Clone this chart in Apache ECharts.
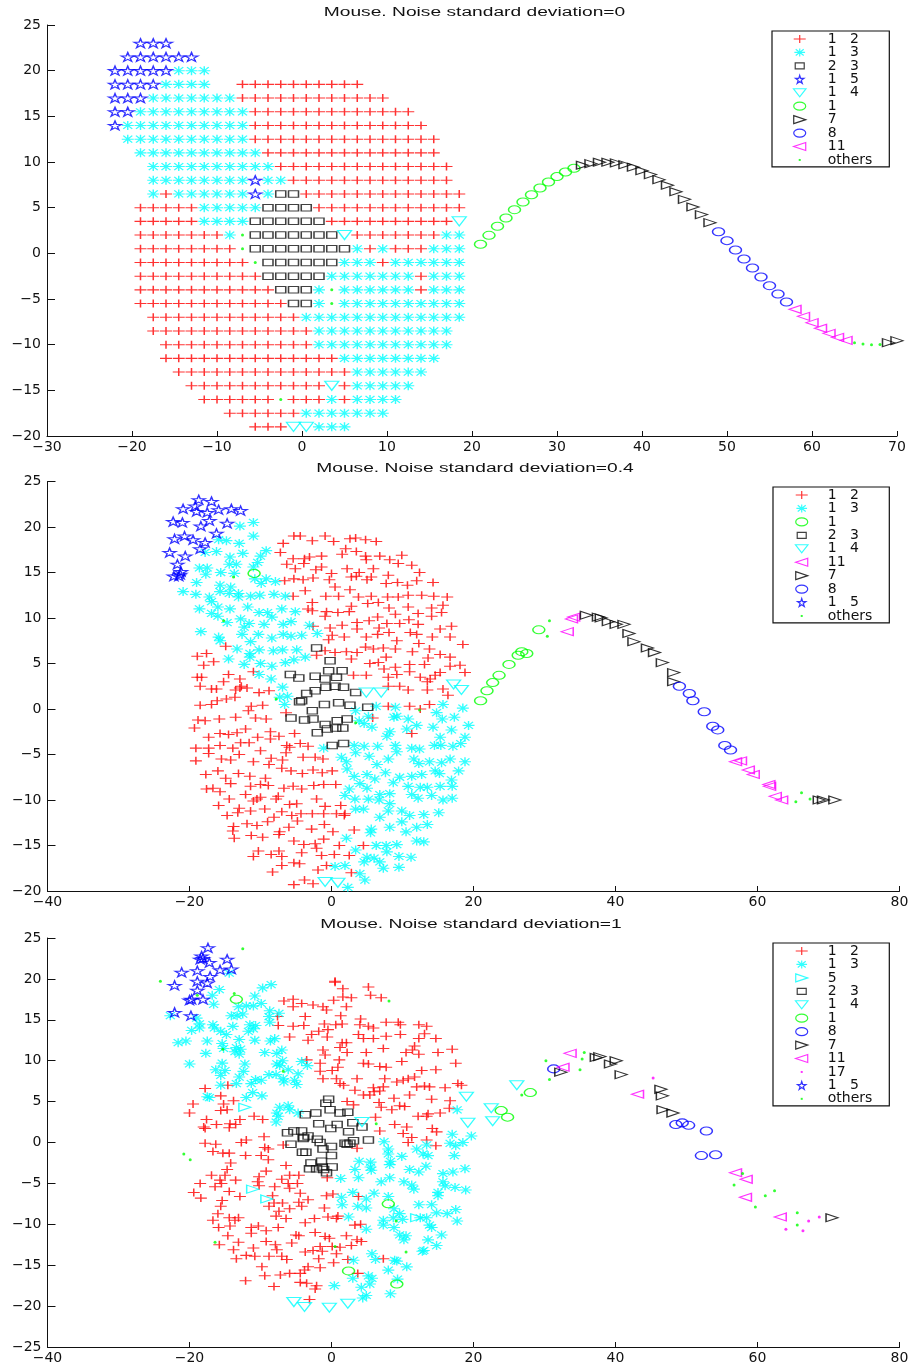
<!DOCTYPE html>
<html><head><meta charset="utf-8">
<style>html,body{margin:0;padding:0;background:#fff}#c{width:912px;height:1367px}</style>
<script src="https://cdn.jsdelivr.net/npm/echarts@6/dist/echarts.min.js"></script></head>
<body><div id="c"></div>
<script>
// ---------- Panel 1 : regular grid of cells, one class letter per cell ----------
const panel1Columns=[-22,-20.5,-19,-17.5,-16,-14.5,-13,-11.5,-10,-8.5,-7,-5.5,-4,-2.5,-1,0.5,2,3.5,5,6.5,8,9.5,11,12.5,14,15.5,17,18.5];
const panel1Rows=[23,21.5,20,18.5,17,15.5,14,12.5,11,9.5,8,6.5,5,3.5,2,0.5,-1,-2.5,-4,-5.5,-7,-8.5,-10,-11.5,-13,-14.5,-16,-17.5,-19];
const panel1Cells=[".2b3",".1b6","b5c3","b4c4.2r10","b3c7r12","b2c9r13","b1c10r14",".1c10r15",".2c10r14",".3c10r14",".3c8b1c2r13",".3c1r1c6b1c1q2r13",".2r5c5q4r12",".2r5c4q6r10v1",".2r7c1g1q7v1r7c2",".2r8g1q8c1r1c1r3c3",".2r9g1q6c3r1c6",".2r10q5c7r1c3",".2r11q3c1g1c6r1c3",".2r12q2c1g1c10",".3r12c13",".3r13c11",".4r12c11",".4r14c8",".5r14c6",".6r11v1r1c5",".7r6g1r3c1r1c4",".9r6c7",".11r3v2c3"];
const p1Green=[[21,0.99],[22,1.97],[23,2.96],[24,3.87],[25,4.78],[26,5.62],[27,6.42],[28,7.16],[29,7.81],[30,8.4],[31,8.91],[32,9.31]];
const p1Black=[[33,9.64],[34,9.82],[35,9.97],[36,9.97],[37,9.9],[38,9.71],[39,9.42],[40,9.05],[41,8.62],[42,8.07],[43,7.45],[44,6.75],[45,5.91],[46,5.07],[47,4.24],[48,3.36],[69,-9.78],[70,-9.56]];
const p1Blue=[[49,2.37],[50,1.39],[51,0.36],[52,-0.62],[53,-1.61],[54,-2.59],[55,-3.54],[56,-4.45],[57,-5.33]];
const p1Magenta=[[58,-6.13],[59,-6.9],[60,-7.59],[61,-8.21],[62,-8.76],[63,-9.2],[64,-9.53]];
const p1Dots=[[65,-9.78],[66,-9.93],[67,-10],[68,-9.97]];

// ---------- Panel 2 ----------
const p2Red=[[-5.3,19],[-4.4,19],[-2.7,18.5],[-0.9,19],[0.3,18.4],[2.6,18.7],[3.4,18.8],[4.8,18.6],[6.3,18.4],[-6.8,18.2],[-7.2,17.2],[2,17.6],[3.5,17.3],[1.5,17],[4.8,16.8],[4.9,16.4],[6.8,16.8],[8.2,16.4],[9.9,16.9],[-1.4,16.8],[-3.1,16.7],[-3.8,16.5],[-5.4,16.5],[-6.3,15.9],[-3.9,16],[-5.1,15.4],[-1.4,15.6],[-2.2,15.3],[2.2,15.4],[5.9,15.4],[3.9,15],[9.4,16],[11.3,15.8],[12.4,15],[0,14.9],[8,14.7],[3.5,14.6],[2.8,14.5],[5.6,14.5],[5,14.2],[-5.3,14.3],[-4,14.2],[-2.6,14.4],[-0.3,14.2],[-6.6,14.1],[7.7,13.8],[9.3,13.9],[10.7,13.6],[12,14.1],[14.3,13.9],[0.5,13.4],[2.6,13.1],[-3.7,13],[-5.4,12.4],[-0.8,12.4],[1,12.4],[3.8,12.3],[5.6,12.4],[7.9,12.3],[9.4,12.3],[10.8,12.5],[12.7,12.5],[14.4,12.4],[16.3,12.3],[-2.7,11.7],[5.1,11.6],[6.6,11.7],[2.8,11.3],[8.1,11.1],[10.8,11.2],[14.1,11.1],[15.7,11.4],[-3.3,11],[-2.7,10.8],[-0.7,10.7],[0.9,10.6],[2.5,10.7],[9,10.4],[12.2,10.5],[14.1,10.2],[15.5,10.6],[-0.9,10.2],[6.5,10.1],[5.3,9.7],[10.9,9.8],[3.6,9.5],[7.8,9.4],[9.6,9.4],[12.2,9.3],[1.5,9.2],[-0.2,8.9],[3.6,8.8],[6.7,8.9],[16.9,9.1],[15.3,8.8],[-2.6,9.1],[0.1,8.1],[1.8,7.9],[8.1,8.4],[6.5,8.2],[4.9,7.9],[11.1,8.4],[12,8.2],[14.2,7.9],[16.7,7.9],[-0.4,7.6],[9.2,7.5],[18.5,7.1],[12.3,7.2],[4.8,6.8],[5.9,6.6],[7.3,6.7],[9,6.6],[13.8,6.6],[11.4,6.3],[-14.9,6.9],[-17.6,6.1],[-18.9,5.8],[-0.9,6.4],[0.5,6.2],[2.1,6.3],[3.6,6.2],[-2.1,5.9],[15.3,6],[16.7,5.7],[7.7,5.7],[13.6,5.6],[2.8,5.5],[5.4,5],[6.6,5.1],[-18,4.8],[-16.6,5.2],[13.1,4.9],[11,4.9],[9,4.6],[16.7,4.7],[18.1,4.8],[7.4,4.4],[15.3,4],[11,4.1],[18.8,4],[-14.5,3.8],[-18.9,3.5],[-18.3,3.5],[-11,4.1],[-12.9,3.3],[3.1,3.7],[4.9,3.7],[9.2,3.8],[8,3.5],[12.5,3.5],[14.6,3.7],[13.9,3.3],[-15.2,3],[13.5,3],[-18.5,2.5],[8,2.5],[9.6,2.5],[-12.7,2.5],[-12.9,2.3],[-16.9,2.2],[15.7,2.2],[13.5,2.1],
[-16.2,2.2],[-13.5,2.1],[-11.9,2.3],[-10.2,1.8],[-8.8,2],[10.8,2.1],[16.4,1.5],[-18.5,0.4],[-16.9,0.5],[-16.1,0.9],[-14.8,1.1],[-13.6,1.3],[-11.3,0.3],[-11.7,-0.2],[-9.7,0.4],[-6.4,-0.4],[8,0.3],[11,0.3],[12.5,0],[13.8,0.5],[-18.8,-1.2],[-17.8,-1.3],[-15.8,-1.1],[-13.5,-0.9],[-10.7,-1],[-9.2,-1.1],[-19.3,-2.1],[-12.1,-2.2],[-17.3,-3.1],[-15.7,-2.7],[-14.5,-2.8],[-13.3,-2.6],[-8.6,-2.5],[-10.4,-3.1],[-8.6,-3.3],[-7.4,-3],[-5.2,-2.7],[5.8,-1],[11.3,-2.7],[-12.8,-3.7],[-11.6,-3.7],[-15.7,-4],[-19.1,-4.3],[-17.3,-4.3],[-13.9,-4.3],[-17.3,-4.9],[-13,-5],[-10,-4.6],[-6.3,-4],[-5.9,-4.2],[-4.4,-3.8],[-3.3,-4.1],[-6.4,-4.8],[-19.1,-5.7],[-15.5,-5.5],[-14.2,-5.6],[-11,-5.8],[-8.5,-5.4],[-8.8,-6.1],[-6.9,-5.6],[-4,-5.3],[-2.3,-5.3],[-1.2,-5.5],[-7,-6.5],[-5.7,-6.8],[-4.1,-7.1],[-2.6,-6.7],[-1.3,-7],[0.1,-6.8],[-16,-6.8],[-17.7,-7.2],[-13.1,-7.1],[-11.5,-7.4],[-9.3,-7.6],[-14.9,-7.6],[-14.2,-8.2],[-11.4,-8.5],[-10,-8.3],[-8.9,-8.4],[-6.7,-8.7],[-5.4,-8.5],[-4.2,-8.8],[-2.5,-8.4],[-1.1,-8.3],[0.6,-8.3],[-17.6,-8.8],[-16.7,-8.7],[-15.7,-9.1],[-12.1,-9.4],[-14.4,-9.9],[-10.5,-9.9],[-11,-10.1],[-10,-9.7],[-7.8,-9.9],[-7.5,-9.6],[-2.1,-9.9],[-15.9,-10.6],[-5.9,-10.5],[-4.9,-10.4],[-0.9,-10.7],[1.3,-10.6],[-13,-10.9],[-9.4,-11],[-11.4,-11.2],[-13.2,-11.4],[-7,-11.3],[-14.7,-11.7],[-8.1,-11.9],[-5.6,-11.7],[-4.3,-11.5],[-2.7,-11.5],[-1.1,-11.5],[0.7,-11.5],[1.9,-11.5],[1.8,-11.7],[-4.8,-12.3],[-9,-12.4],[-11.9,-12.6],[-10.5,-12.8],[-13.8,-12.9],[-13.9,-13.4],[-6,-13],[-2.8,-13.2],[-1,-12.7],[3.2,-13.3],[-7.3,-13.5],[-7.4,-13.8],[0.2,-13.5],[-13.7,-14.2],[-11.3,-13.9],[-9.7,-14.1],[-1.1,-14.3],[-5.3,-14.5],[-3.9,-14.9],[-2.3,-14.8],[-2.1,-15.3],[1.1,-15],[4.5,-15],[-10.3,-15.6],[-7.4,-15.6],[-11,-16.2],[-8.5,-16],[-7,-16.2],[-4.2,-15.8],[-1.4,-16.1],[0.4,-16],[2.5,-16.1],[-7,-17.2],[-5.3,-16.9],[-4.5,-17],[-0.7,-17.2],[-1.9,-17.7],[-8.3,-17.9],[2.8,-18],[-5.3,-19.3],[-3.8,-18.8],[-2.6,-19.2]];
const p2Cyan=[[-11,20.5],[-12.9,20.1],[-11,19],[-15.9,18.6],[-14.8,18.5],[-13,18.2],[-9.2,17.4],[-16.2,17.3],[-17.8,17.2],[-12.5,17.1],[-10,16.8],[-14.3,16.7],[-10.4,16.1],[-14.4,15.9],[-13.4,15.9],[-18.6,15.5],[-17.5,15.5],[-11,15.6],[-15.6,15],[-17.7,14.8],[-13.7,14.9],[-10.8,14.3],[-9.2,14.3],[-7.9,14],[-9.9,13.8],[-19,13.9],[-15.7,13.6],[-14.2,13.4],[-20.9,12.9],[-15.7,12.9],[-14.4,12.7],[-13.1,12.7],[-19.1,12.6],[-17.2,12.3],[-13.1,12.3],[-11.4,12.4],[-10.1,12.5],[-8.1,12.6],[-6.5,12.4],[-16.9,11.8],[-18.6,11],[-16,11.2],[-14.3,11],[-11.8,11.2],[-7,11],[-5.1,10.7],[-16.9,10.5],[-16,10.2],[-10.2,10.6],[-9,10.6],[-8.4,10.1],[-12.8,9.9],[-14.7,9.5],[-11.6,9.4],[-12.3,9],[-9.5,9.3],[-6.8,9.3],[-5.7,9.6],[-3.1,9.2],[-18.4,8.5],[-12.6,8.2],[-10.3,8.2],[-8.4,7.8],[-6.8,8.2],[-5.7,8],[-4.2,8.1],[-2,8.3],[-15.9,7.9],[-15.7,7.5],[-11.4,7.4],[-13.3,6.6],[-11.5,6.1],[-10.2,6.5],[-8.2,6.4],[-6.9,6.5],[-4.9,6.5],[-11.5,5.7],[-3.7,5.7],[-14.5,5.5],[-12.3,4.9],[-10,5],[-8.4,4.7],[-6.5,5.1],[-5.3,5.4],[-10.2,3.8],[-8.5,3.3],[-6.9,2.4],
[-7.3,1.3],[-6.2,1.4],[-6.6,0.5],[3.4,-0.2],[6.3,0.3],[9,0.2],[15.7,0.5],[18.5,0.1],[14.8,-0.4],[5.2,-0.8],[3.9,-1.3],[4.6,-1.6],[5.7,-2],[8.8,-0.9],[9.2,-0.8],[10.8,-1.1],[15.6,-1.1],[17.3,-0.9],[12,-1.8],[19.3,-1.8],[8.2,-2.5],[7.8,-3],[10.6,-2.2],[14.3,-2],[16.9,-2.3],[15.3,-3.1],[18.8,-3.1],[-1.1,-4.3],[3.2,-4],[4.6,-4.1],[6.5,-4.1],[3.4,-4.8],[9,-4],[9.2,-4.7],[11.3,-4.3],[12.4,-4.4],[14.5,-4],[15.4,-4],[17.1,-4.1],[18.2,-3.8],[1.4,-5.3],[2.1,-5.8],[5.3,-5.2],[8,-5.5],[11.6,-5.5],[12.3,-6],[13.8,-5.8],[15.5,-5.9],[16.7,-5.5],[18.8,-5.8],[6.4,-6.1],[2.2,-6.6],[7.6,-7],[14.6,-6.8],[15.2,-7.1],[17.9,-6.8],[3.2,-7.4],[5,-7.2],[6.1,-7.7],[9.6,-7.5],[11.3,-7.4],[12.7,-7.2],[16.9,-7.8],[4,-8.2],[8.7,-8.1],[5,-8.7],[10.8,-8.5],[12.5,-8.6],[13.5,-8.6],[15.3,-8.5],[17,-8.5],[2.5,-8.8],[1.9,-9.5],[11.3,-9.4],[6.8,-9.4],[8.2,-9.3],[14.1,-9.5],[12.2,-9.8],[3.3,-9.9],[5.2,-9.9],[6.7,-10],[15.7,-10],[17,-9.8],[8.2,-10.4],[3.4,-11],[4.5,-11],[8,-11.2],[9.9,-11.2],[15.1,-11.4],[11,-11.7],[13,-11.6],[6.8,-11.9],[9.9,-12.4],[13.5,-12.7],[8.2,-13],[12,-13],[5.6,-13.2],[5.5,-13.6],[10.5,-13.5],[2.1,-14.2],[12,-14.5],[13,-14.6],[6.3,-15],[7.7,-15],[9.2,-14.9],[3.4,-15.5],[7.8,-15.7],[9.5,-16.2],[11.2,-16.3],[5,-16.3],[6,-16.4],[4.6,-16.8],[6.8,-16.8],[7.3,-17.5],[9.5,-17.4],[0.5,-17.3],[1.9,-17.2],[4,-18.1],[4.7,-18.8],[2.3,-19.6]];
const p2Square=[[-2.1,6.7],[-0.2,5.3],[-0.4,4.2],[1.5,4.2],[-5.8,3.8],[-4.6,3.4],[-2.3,3.6],[-0.9,3.3],[0.7,3.5],[0.5,2.5],[1.7,2.4],[-0.8,2.4],[-2.3,2],[-3.5,1.7],[3.4,1.8],[-4.5,0.8],[-4.2,0.9],[-1,0.5],[1,0.7],[2.6,0.4],[5.1,0.2],[-2.7,-0.2],[-5.7,-1],[-3.8,-1.2],[-2.6,-1.1],[0.8,-1.3],[2.2,-1.1],[-0.9,-1.7],[-0.6,-2.2],[0.6,-2.1],[1.6,-2.1],[-2,-2.6],[0.1,-4],[1.7,-3.8]];
const p2Star=[[-18.7,23],[-16.9,22.8],[-19.2,22.3],[-20.9,22],[-19,21.7],[-17.5,21.6],[-15.9,21.9],[-14.1,22],[-12.8,21.8],[-22.3,20.6],[-21,20.5],[-17.2,20.7],[-18.4,20.1],[-14.7,20.4],[-16.2,19.3],[-22.1,18.7],[-20.7,19],[-19.5,18.6],[-17.8,18.3],[-18.5,17.6],[-22.8,17.2],[-20.6,16.8],[-21.7,15.9],[-21.2,15.1],[-22.2,14.6],[-21.5,14.6],[-21.3,14.8]];
const p2TriDown=[[17.2,2.7],[18.3,2.1],[4.9,1.8],[7,1.8],[-0.9,-19],[0.9,-19.1]];
const p2Dots=[[-13.8,14.5],[-15.2,9.7],[-7.8,1.1],[12.4,-0.1],[3.4,-1.5],[30.7,9.7],[30.4,8],[66.2,-9.2],[65.4,-10.2],[67.4,-9.9]];
const p2Green=[[-10.9,14.9],[21,0.9],[21.9,2],[22.7,2.9],[23.6,3.7],[25,4.9],[26.3,5.9],[26.8,6.3],[27.5,6.1],[29.2,8.7]];
const p2Magenta=[[33.8,9.9],[34.1,10.1],[33.2,8.5],[56.9,-5.8],[57.6,-5.7],[58.7,-6.7],[59.4,-7.2],[61.6,-8.3],[61.7,-8.5],[62.5,-9.6],[63.4,-10]];
const p2Black=[[35.9,10.3],[37.6,10.1],[38,10],[39,9.6],[40.1,9.3],[41.2,9.3],[41.9,8.3],[42.6,7.4],[44.5,6.7],[45.5,6.2],[46.6,5.1],[48.2,4],[48.2,3],[68.7,-10],[69.3,-10],[70.9,-10]];
const p2Blue=[[49,2.5],[50.4,1.7],[50.9,0.9],[52.5,-0.3],[53.7,-1.9],[54.4,-2.3],[55.4,-4],[56.2,-4.5]];

// ---------- Panel 3 ----------
const p3Red=[[0.5,19.7],[0.5,19.6],[1.6,18.8],[5.2,19],[5.5,18],[7,17.7],[1.6,17.8],[2.8,17.7],[0.3,17.4],[-6.7,17.3],[-5.4,17.5],[-4.2,17],[-5.4,16.6],[-2.6,16.8],[-1.2,16.6],[-0.7,16.2],[2.1,16.6],[1.3,15.5],[-7.6,15.4],[-3.7,15.4],[4.1,15.1],[7.7,14.7],[9.4,14.7],[12.3,14.4],[13.4,14.2],[-7.5,14.3],[-5.4,14.2],[-3.9,14.3],[-1,14.5],[0.6,14.4],[1.5,14.5],[4,14.4],[5.2,14.2],[5.9,14],[9.7,14.4],[-0.5,13.8],[-1.8,13.6],[-2.8,13.2],[3.8,13.2],[9.7,13.2],[13.1,13.3],[-5.9,12.9],[-0.6,12.9],[4.5,12.7],[5.9,12.7],[7.7,13],[12.3,12.7],[14.7,12.7],[-3.3,12.5],[1.5,12.2],[2.1,12.2],[1.2,11.6],[7.3,11.5],[11.7,11.8],[11.4,11.3],[-1.2,11.3],[4.9,11],[17,11.4],[10.5,11],[15,11],[-0.9,10.7],[2.2,11],[12.3,10.8],[1.1,10.1],[-3.5,10.1],[-1.6,9.7],[9.9,9.9],[17.5,9.7],[4.5,9.7],[5.2,9.6],[0.9,9.2],[6.8,9.3],[7.7,9.2],[-1.6,8.7],[0.1,8.8],[12.7,8.8],[14.7,8.9],[-1.2,7.8],[0.7,7.8],[3.6,7.8],[7.5,7.8],[1.2,7.2],[1.7,7],[11.7,8],[10.8,7.8],[10.1,7.6],[9.2,7.4],[13.1,6.9],[12,6.8],[13.8,6.8],[16,6.7],[17.8,7.2],[18.3,7],[-17.8,6.6],[-14.6,7],[3.3,6.4],[5.9,6.7],[7.3,6.8],[6,6.2],[6.8,6.3],[4.5,5.8],[5.4,5.8],[-15.6,5.7],[8.8,5.4],[11,5.8],[14.1,5.3],[16.7,5.1],[-13.8,5.1],[-19.5,4.7],[-15.2,4.7],[2.2,5],[3.1,4.6],[6.7,4.9],[7,4.3],[8.5,4],[9.6,4.5],[10.3,4.4],[16.6,4.2],[-15.6,3.9],[-14.7,4],[-20,3.6],[-12.9,2.8],[-10.9,3.2],[-9.7,2.8],[6.2,3.1],[12.2,3.2],[13.4,3.2],[13.6,3.5],[15.3,3.6],[-17.6,2.8],[-18,1.9],[-17.8,1.7],[-16.2,2.2],[-14.3,2.3],[-13.5,2.2],[-14.4,1.8],[8.9,2.2],[10.6,1.9],[14.2,1.7],[14.8,1.3],[10.1,1.1],[11.3,0.6],[-9.5,0.7],[-12,0.3],[13.4,0.3],[-12.7,0],[-17.8,-0.1],[-16.3,-0.2],
[6.8,1.4],[10.8,0],[14.7,-0.4],[-6.8,-0.3],[-9.4,-0.6],[-8.9,-0.8],[3.6,-0.7],[-16.7,-1.1],[-15.3,-1.3],[-14.4,-1.3],[-12.1,-1.6],[-9.9,-1.6],[-8.9,-2.1],[-14.2,-2.5],[-6.4,-2.8],[-14.7,-3.3],[-9.2,-3.5],[-16.9,-4],[-15,-4],[-10.2,-4.2],[-5.9,-4],[-4.6,-4],[-7,-4.5],[-13.5,-4.6],[-15.7,-4.6],[-0.6,-4.3],[-10.4,-4.8],[-18.5,-5],[-6.1,-5],[-4.8,-5],[-15.5,-5],[-16.4,-5.4],[-10.2,-5.3],[-8,-5.4],[-5.9,-5.6],[-14.4,-6],[-19.4,-6.1],[-4.4,-6.2],[-0.7,-6.5],[0.2,-6.3],[3.8,-6.6],[-18.4,-6.8],[-12.9,-6.6],[-8.3,-6.5],[-3.3,-7],[-15.4,-7.1],[-4.6,-7.3],[-8.1,-7.4],[-6.9,-7.4],[-8.8,-7.8],[-4.2,-7.8],[-15.6,-7.8],[-5.9,-8.1],[-1,-8],[-7.4,-8.4],[-16,-8.7],[-7.8,-9],[-14.4,-9.2],[-13.1,-9.2],[-0.5,-9.1],[0.9,-9],[-6.4,-9.3],[-2.4,-9.3],[-16.7,-9.5],[-13.6,-9.5],[0.7,-9.3],[-3.7,-9.8],[-14.3,-10.2],[-15.9,-10.4],[-11.3,-10.4],[-10.3,-10.2],[-7.5,-10.4],[3.3,-10.1],[4.1,-10],[-9.2,-10.8],[-11.3,-11.1],[-2.3,-11],[-5,-11.3],[-4.6,-11.4],[-14.6,-11.4],[-0.9,-11.5],[-0.3,-11.7],[2.1,-11.4],[3.6,-11.9],[-9.2,-12.1],[4.2,-12.1],[-5.6,-12.3],[-13.1,-12.2],[-15.8,-12.5],[-7.9,-12.5],[-1.6,-12.7],[0.1,-12.7],[1.2,-12.8],[2.8,-12.6],[-11,-12.9],[-7.7,-13.1],[-13.8,-13.1],[-2.6,-13.2],[-1.3,-13.3],[-3.7,-13.4],[-12,-13.8],[-10.8,-13.9],[-8.8,-13.9],[-7,-13.9],[-6.3,-14.3],[0.7,-13.6],[-13.4,-14.2],[-1.8,-14.2],[2.3,-14.3],[7.3,-14.2],[0.3,-14.7],[-3.3,-15.2],[-1.6,-15.3],[-9.8,-15.2],[-3.8,-15.6],[-5.9,-16],[-4.4,-16],[3.7,-16],[-9.4,-16.3],[-7.2,-16.2],[-12.1,-16.9],[-4.4,-17.1],[-3.5,-17.2],[-2.1,-17.5],[-2.3,-17.9],[-8.1,-17.6],[-3.1,-19.2]];
const p3Cyan=[[-14.4,20.7],[-8.5,19.3],[-9.7,18.9],[-15.8,18.7],[-16.8,18],[-10.8,17.9],[-16.6,16.9],[-13.1,16.6],[-12,16.7],[-11,16.7],[-9.9,17],[-22.7,15.5],[-8.7,16.1],[-7.4,15.8],[-14.1,15.5],[-13.3,15.5],[-12.5,15.7],[-8.8,15.4],[-8.7,14.7],[-19,15.2],[-18.6,14.5],[-18.6,14],[-19.7,13.7],[-16.7,14.4],[-16.5,14],[-13.9,14.2],[-11.5,14.4],[-10.7,14.3],[-11.7,13.6],[-11,13.9],[-15.6,13.6],[-14.8,13.2],[-13,12.6],[-10.8,12.5],[-8,12.7],[-8.6,12.4],[-21.6,12.2],[-20.5,12.4],[-17.5,12.4],[-15.4,12.1],[-15.2,11.5],[-17.7,10.9],[-13.4,11.6],[-12.8,11.4],[-13.6,11.1],[-13,10.8],[-9.4,11],[-7,11.3],[-7.7,10.9],[-20,9.6],[-15.4,9.7],[-12.2,9.6],[-7.7,9.6],[-6.9,10],[-7.3,9.4],[-4.2,9.9],[-3.4,9.4],[-16.3,8.9],[-15,8.8],[-12.4,8.7],[-6.1,8.9],[-4.7,8.4],[-15.6,8.2],[-8.8,8.3],[-7.8,8.3],[-13,8],[-10.7,7.7],[-9.9,7.6],[-11.3,7.2],[-6.8,7.8],[-6.7,7.4],[-5.2,7.6],[-4.9,7.1],[-15.6,7],[-13.4,7.2],[-11.1,6.1],[-17.5,5.6],[-17.2,5.5],[-12,5.5],[-9.8,5.7],[-7.3,4.3],[-6.1,4.5],[-5.9,4],[-7.7,3.6],[-7.5,3.2],[-4.7,3.6],[-7.8,2.5],[17.7,4],[17,1],[19.7,0.8],[18.5,0],[16.7,-0.1],[7.4,0.1],[13.4,-0.3],
[17.5,-0.4],[12,-0.8],[8,-0.8],[8,-1.4],[9.9,-1.7],[12.9,-1.4],[13.6,-1.6],[17.3,-1.6],[8.3,-2.3],[8.2,-2.7],[3.9,-2.3],[5.5,-2.4],[5.5,-3],[3.3,-3.3],[5.6,-3.4],[11,-3.3],[13.3,-2.9],[18.8,-3.2],[12.3,-3.6],[17.1,-3.6],[15.7,-3.8],[1.3,-4.4],[3.8,-4.3],[7,-4.8],[8.2,-4.3],[10.2,-4.8],[15.7,-4.8],[11.3,-5.2],[17.4,-5.5],[11.6,-5.7],[16,-5.3],[18.9,-5.8],[15,-6.1],[3,-6.1],[6,-6.2],[8,-6.6],[15,-6.5],[1.4,-6.7],[4.9,-6.9],[1.5,-7.6],[3.7,-7.8],[4.9,-8],[12.3,-7.6],[14.1,-7.6],[8.8,-8.1],[9.6,-8.7],[17.5,-8.2],[14.8,-8.6],[16.3,-8.7],[2.4,-9.1],[8.7,-9.2],[7.3,-9.5],[10,-9.4],[12.5,-9.2],[13.4,-9.2],[17.7,-9.6],[7.3,-10.1],[13.8,-10.1],[14.1,-10.4],[8.8,-10.4],[4.9,-10.6],[15.5,-11.3],[9.6,-11.3],[10.5,-11.4],[10.2,-11.9],[13.6,-11.9],[14.8,-12.6],[13,-13.2],[12.8,-13.3],[5.7,-13.6],[6.2,-14.3],[3.1,-14.4],[8.9,-14.4],[9.2,-14.5],[10.6,-15.2],[8,-15.6],[3,-16.6],[5.2,-16.3],[5.7,-16.6],[9.3,-16.7],[5.4,-17.3],[4.2,-17.7],[0.4,-17.5],[4.9,-18.7],[4.4,-19],[8.3,-18.5]];
const p3Square=[[-0.4,5.3],[-0.8,4.8],[-0.2,4],[1.2,3.6],[2.3,3.7],[-3.7,3.4],[-2.2,3.6],[-1.8,2.3],[0.8,2.2],[-0.1,1.7],[3,2.4],[4.3,1.9],[2.4,1.3],[-6.2,1.2],[-5.3,1.4],[-4.2,1.4],[-3.3,0.8],[-3.9,0.6],[-2,0.4],[3.1,0.2],[5.2,0.3],[-5.7,-0.2],[-1.6,0],[0,-0.5],[1.9,-0.1],[2.6,-0.1],[-4,0.5],[2.2,-0.2],[-1.2,-0.8],[-4.1,-1.2],[-3.6,-1.2],[0,-1.6],[-2.9,-2.5],[-1.4,-2.3],[0.1,-3],[-3.1,-3.2],[-2.1,-3.2],[-1.3,-3],[-1.1,-3.3],[-0.7,-3.7]];
const p3Star=[[-17.4,23.8],[-18.3,22.8],[-18.1,22.5],[-18.5,22.4],[-17.2,22],[-14.7,22.4],[-21.1,20.8],[-18.9,21],[-15.7,21.1],[-14.1,21.2],[-17.1,20.3],[-18.9,19.7],[-17.5,19.5],[-22.1,19.2],[-18.9,18.6],[-20,17.4],[-19.7,17.5],[-18.1,17.5],[-22.1,15.9],[-19.8,15.5]];
const p3TriDown=[[19,5.6],[4.3,2.5],[19.2,2.4],[22.5,4.2],[22.7,2.6],[26.1,7],[-5.3,-19.5],[-3.8,-20.1],[-0.3,-20.2],[2.3,-19.7]];
const p3TriRightCyan=[[-12.2,4.3],[-11.1,-5.7],[-9.1,-6.9],[12,-9.2]];
const p3Green=[[-13.4,17.5],[8,-7.5],[2.4,-15.7],[9.2,-17.3],[23.9,3.9],[24.8,3.1],[28,6.1]];
const p3Dots=[[-12.5,23.7],[-24.1,19.7],[-13.7,18.2],[-18.9,18],[8.1,17.3],[-15.3,11.4],[-6.8,8.7],[6.3,2.3],[-20.8,-1.4],[-19.9,-2.1],[-16.4,-12.2],[9.1,-9.6],[10.5,-13.4],[0.5,-12.7],[26.8,5.8],[30.2,10],[30.7,7.7],[35.3,10.2],[35.6,11],[35,8.9],[57.9,-3.8],[56.7,-5.2],[61.1,-6.5],[62.4,-5.9],[59.7,-7.9],[65.6,-8.6],[65.6,-10.1]];
const p3Dots17=[[45.3,7.9],[64,-10.6],[66.4,-10.8],[67.2,-9.6],[68.7,-9.1]];
const p3Blue=[[31.3,9],[48.5,2.2],[49.4,2.4],[50.3,2.1],[52.8,1.4],[52.1,-1.6],[54.1,-1.5]];
const p3Black=[[32.3,8.6],[37.3,10.4],[37.8,10.5],[39.3,9.6],[40.1,10],[40.8,8.3],[46.4,6.5],[46.6,5.7],[46.7,4],[48.1,3.6],[70.5,-9.2]];
const p3Magenta=[[33.6,10.9],[32.6,9.2],[43.1,5.9],[56.9,-3.7],[58.4,-4.5],[58.3,-6.7],[63.2,-9.1]];

// ---------- Titles, legends, ticks ----------
const panelTitles=["Mouse. Noise standard deviation=0","Mouse. Noise standard deviation=0.4","Mouse. Noise standard deviation=1"];
const legendOrder1=["1   2","1   3","2   3","1   5","1   4","1","7","8","11","others"];
const legendOrder2=["1   2","1   3","1","2   3","1   4","11","7","8","1   5","others"];
const legendOrder3=["1   2","1   3","5","2   3","1   4","1","8","7","11","17","1   5","others"];

// ---------- Decode panel 1 table ----------
const p1 = {r:[],c:[],q:[],b:[],v:[],g:[]};
panel1Cells.forEach((cells,i)=>{
  let col=0;
  for(const m of cells.matchAll(/([.rcqbvg])(\d+)/g)){
    const n=+m[2];
    for(let k=0;k<n;k++,col++){ if(m[1]!=='.') p1[m[1]].push([panel1Columns[col],panel1Rows[i]]); }
  }
});

// ---------- Marker styles ----------
const C={red:'#ff0000',cyan:'#00ffff',blue:'#0000ff',green:'#00ff00',magenta:'#ff00ff',black:'#000000'};
const STAR='path://M50 0L61 35L98 35L68 57L79 91L50 70L21 91L32 57L2 35L39 35Z';
const RING='path://M0 4A6 4 0 1 0 12 4A6 4 0 1 0 0 4Z';
const DOTICON='path://M0 0M12 8M5 3H7V5H5Z';
const S={
 "1   2":{sym:'path://M0 4H12M6 0V8',size:[12,8],color:C.red},
 "1   3":{sym:'path://M0 4.5H12M6 0V9M1.5 1L10.5 8M1.5 8L10.5 1',size:[12,9],color:C.cyan},
 "2   3":{sym:'path://M0 0H10V6.5H0Z',icon:'path://M0 0M12 8M1.5 1H10.5V7H1.5Z',size:[10,6.5],color:'#111'},
 "1   5":{sym:STAR,size:[13,9],color:C.blue},
 "1   4":{sym:'path://M0 0H14L7 9Z',size:[14,9],color:C.cyan},
 "1":{sym:RING,size:[12,8],color:C.green},
 "7":{sym:'path://M0 0L12 4L0 8Z',size:[12,8],color:C.black},
 "8":{sym:RING,size:[12,8],color:C.blue},
 "11":{sym:'path://M12 0L0 4L12 8Z',size:[12,8],color:C.magenta},
 "5":{sym:'path://M0 0L12 4L0 8Z',size:[12,8],color:C.cyan},
 "17":{dot:true,size:3,color:C.magenta},
 "others":{dot:true,size:3,color:C.green}
};
function mk(name,data,idx){
  const s=S[name];
  return {type:'scatter',name,data,xAxisIndex:idx,yAxisIndex:idx,
    symbol:s.dot?'circle':s.sym,symbolSize:s.size,symbolKeepAspect:false,
    itemStyle:s.dot?{color:s.color,borderWidth:0}:{color:'none',borderColor:s.color,borderWidth:1.25},
    silent:true,animation:false,progressive:0,emphasis:{disabled:true}};
}
function lg(names,left,top,pad,textPad){
  return {orient:'vertical',left,top,padding:pad,itemWidth:14,itemHeight:8,itemGap:-0.56,
    borderColor:'#111',borderWidth:1.2,backgroundColor:'#fff',selectedMode:false,
    itemStyle:{borderWidth:1.2},
    textStyle:{fontFamily:'DejaVu Sans',fontSize:14,lineHeight:13,color:'#111',padding:[0,0,0,textPad]},
    data:names.map(n=>({name:n,icon:S[n].dot?DOTICON:(S[n].icon||S[n].sym)}))};
}
const fmt=v=>v<0?'\u2212'+Math.abs(v):''+v;
function xA(idx,min,max,interval){return {type:'value',gridIndex:idx,min,max,interval,splitLine:{show:false},
  axisLine:{onZero:false,lineStyle:{color:'#111',width:1}},axisTick:{inside:true,length:5,lineStyle:{color:'#111'}},
  axisLabel:{formatter:fmt,color:'#111',fontFamily:'DejaVu Sans',fontSize:14,margin:4,showMinLabel:true,showMaxLabel:true}};}
function yA(idx,min,max,interval){return {type:'value',gridIndex:idx,min,max,interval,splitLine:{show:false},
  axisLine:{onZero:false,lineStyle:{color:'#111',width:1}},axisTick:{inside:true,length:8,lineStyle:{color:'#111'}},
  axisLabel:{formatter:fmt,color:'#111',fontFamily:'DejaVu Sans',fontSize:14,margin:6,padding:[2,0,0,0],showMinLabel:true,showMaxLabel:true}};}
function ttl(text,x,y){return {type:'text',x,y,scaleX:1.6,silent:true,z:10,
  style:{text,fill:'#111',font:'12px "Liberation Sans"',textAlign:'center',textVerticalAlign:'middle'}};}

const option={
  animation:false,backgroundColor:'#fff',
  grid:[{left:47,width:850,top:25,height:411},{left:47.5,width:852,top:481.5,height:409.5},{left:47.5,width:852,top:938,height:409}],
  xAxis:[xA(0,-30,70,10),xA(1,-40,80,20),xA(2,-40,80,20)],
  yAxis:[yA(0,-20,25,5),yA(1,-20,25,5),yA(2,-25,25,5)],
  legend:[lg(legendOrder1,772,31,[1,17,0,19],16),lg(legendOrder2,773,487,[1,17,0,20],14),lg(legendOrder3,773,943,[1,17,0,20],14)],
  graphic:{elements:[ttl(panelTitles[0],474.5,12.5),ttl(panelTitles[1],475,468.5),ttl(panelTitles[2],471,924.5)]},
  series:[
   mk("1   2",p1.r,0),mk("1   3",p1.c,0),mk("2   3",p1.q,0),mk("1   5",p1.b,0),mk("1   4",p1.v,0),mk("1",p1Green,0),mk("7",p1Black,0),mk("8",p1Blue,0),mk("11",p1Magenta,0),mk("others",p1.g.concat(p1Dots),0),
   mk("1   2",p2Red,1),mk("1   3",p2Cyan,1),mk("1",p2Green,1),mk("2   3",p2Square,1),mk("1   4",p2TriDown,1),mk("11",p2Magenta,1),mk("7",p2Black,1),mk("8",p2Blue,1),mk("1   5",p2Star,1),mk("others",p2Dots,1),
   mk("1   2",p3Red,2),mk("1   3",p3Cyan,2),mk("5",p3TriRightCyan,2),mk("2   3",p3Square,2),mk("1   4",p3TriDown,2),mk("1",p3Green,2),mk("8",p3Blue,2),mk("7",p3Black,2),mk("11",p3Magenta,2),mk("17",p3Dots17,2),mk("1   5",p3Star,2),mk("others",p3Dots,2)
  ]
};
const chart=echarts.init(document.getElementById('c'),null,{renderer:'canvas'});
chart.setOption(option);
</script></body></html>
